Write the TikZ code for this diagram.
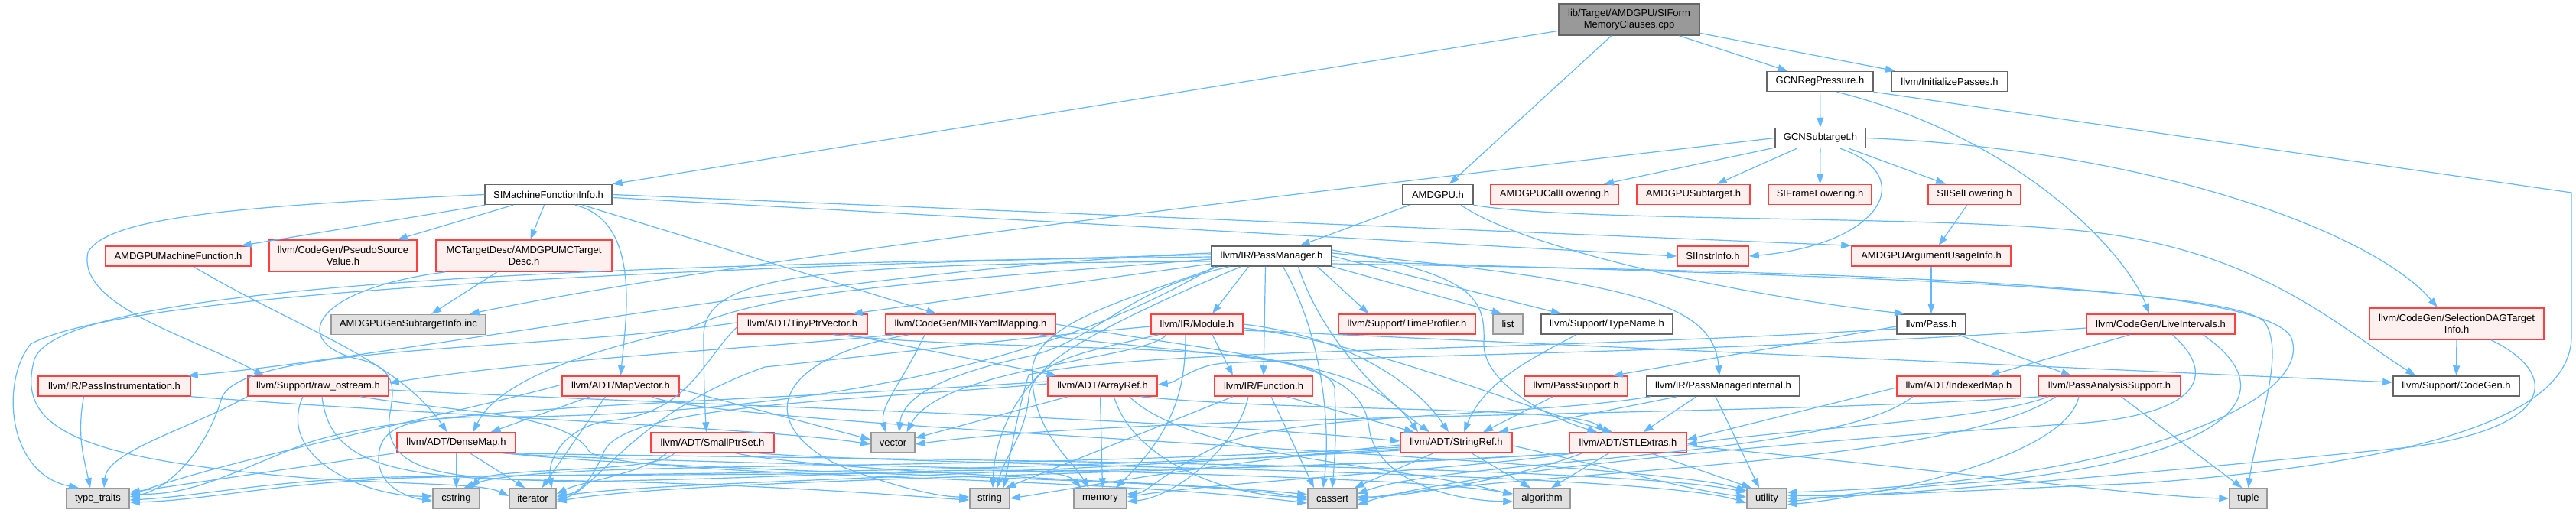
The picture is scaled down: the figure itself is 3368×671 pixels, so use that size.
\documentclass[tikz,border=0pt]{standalone}
\usepackage{fontspec}
\setmainfont{Liberation Sans}
\usetikzlibrary{arrows.meta,calc}
\definecolor{eblue}{HTML}{63B8FF}
\definecolor{nred}{HTML}{FF4040}
\definecolor{nredfill}{HTML}{FFF0F0}
\definecolor{ngray}{HTML}{999999}
\definecolor{ngrayfill}{HTML}{E0E0E0}
\definecolor{nwhite}{HTML}{666666}
\definecolor{nmain}{HTML}{999999}
\newcommand\nodefont{\fontsize{13}{15}\selectfont}
\tikzset{
 base/.style={rectangle, inner sep=1pt, minimum height=26pt, line width=1.5pt, font=\nodefont, align=center, text=black},
 rnode/.style={base, draw=nred, fill=nredfill},
 gnode/.style={base, draw=ngray, fill=ngrayfill},
 wnode/.style={base, draw=nwhite, fill=white},
 mnode/.style={base, draw=nwhite, fill=nmain},
 edg/.style={draw=eblue, line width=1.2pt, -{Triangle[length=13pt,width=9pt]}},
}
\begin{document}
\begin{tikzpicture}[x=1pt,y=-1pt]
\fill[white] (0,0) rectangle (3368,671);
\useasboundingbox (0,0) rectangle (3368,671);
% nodes
\node[mnode,minimum width=184pt,minimum height=41pt] (main) at (2130,25.5) {lib/Target/AMDGPU/SIForm\\MemoryClauses.cpp};
\node[wnode,minimum width=139pt] (gcnrp) at (2379.5,106.5) {GCNRegPressure.h};
\node[wnode,minimum width=152pt] (initp) at (2549,106.5) {llvm/InitializePasses.h};
\node[wnode,minimum width=118pt] (gcnst) at (2380,180.5) {GCNSubtarget.h};
\node[wnode,minimum width=166pt] (simfi) at (717,254.5) {SIMachineFunctionInfo.h};
\node[wnode,minimum width=92pt] (amdgpu) at (1880,254.5) {AMDGPU.h};
\node[rnode,minimum width=167pt] (calllow) at (2032.5,254.5) {AMDGPUCallLowering.h};
\node[rnode,minimum width=148pt] (amdsub) at (2214,254.5) {AMDGPUSubtarget.h};
\node[rnode,minimum width=135pt] (sifl) at (2379.5,254.5) {SIFrameLowering.h};
\node[rnode,minimum width=121pt] (siisel) at (2581.5,254.5) {SIISelLowering.h};
\node[rnode,minimum width=190pt] (amdmf) at (233,335) {AMDGPUMachineFunction.h};
\node[rnode,minimum width=193pt,minimum height=41pt] (pseudo) at (448.5,334.5) {llvm/CodeGen/PseudoSource\\Value.h};
\node[rnode,minimum width=230pt,minimum height=41pt] (mctd) at (685,334.5) {MCTargetDesc/AMDGPUMCTarget\\Desc.h};
\node[wnode,minimum width=157pt] (pm) at (1662.5,335) {llvm/IR/PassManager.h};
\node[rnode,minimum width=93pt] (siinstr) at (2239.5,335) {SIInstrInfo.h};
\node[rnode,minimum width=208pt] (argusage) at (2525,335) {AMDGPUArgumentUsageInfo.h};
\node[gnode,minimum width=202pt] (gensub) at (534,424.5) {AMDGPUGenSubtargetInfo.inc};
\node[rnode,minimum width=170pt] (tinyptr) at (1049,424) {llvm/ADT/TinyPtrVector.h};
\node[rnode,minimum width=222pt] (mir) at (1269,424) {llvm/CodeGen/MIRYamlMapping.h};
\node[rnode,minimum width=120pt] (module) at (1565,424) {llvm/IR/Module.h};
\node[rnode,minimum width=179pt] (timeprof) at (1839.5,424) {llvm/Support/TimeProfiler.h};
\node[gnode,minimum width=39pt] (list) at (1971.5,424) {list};
\node[wnode,minimum width=172pt] (typename) at (2101,424) {llvm/Support/TypeName.h};
\node[wnode,minimum width=90pt] (pass) at (2525,424) {llvm/Pass.h};
\node[rnode,minimum width=194pt] (liveint) at (2825,424) {llvm/CodeGen/LiveIntervals.h};
\node[rnode,minimum width=228pt,minimum height=41pt] (seldag) at (3212,423.5) {llvm/CodeGen/SelectionDAGTarget\\Info.h};
\node[rnode,minimum width=199pt] (passinst) at (149.5,505) {llvm/IR/PassInstrumentation.h};
\node[rnode,minimum width=184pt] (rawos) at (416,505) {llvm/Support/raw\_ostream.h};
\node[rnode,minimum width=153pt] (mapvec) at (811.5,505) {llvm/ADT/MapVector.h};
\node[rnode,minimum width=143pt] (arrayref) at (1441.5,505) {llvm/ADT/ArrayRef.h};
\node[rnode,minimum width=128pt] (function) at (1652,505) {llvm/IR/Function.h};
\node[rnode,minimum width=135pt] (passsup) at (2060.5,505) {llvm/PassSupport.h};
\node[wnode,minimum width=200pt] (pmi) at (2253,505) {llvm/IR/PassManagerInternal.h};
\node[rnode,minimum width=162pt] (indexed) at (2561,505) {llvm/ADT/IndexedMap.h};
\node[rnode,minimum width=186pt] (pas) at (2758,505) {llvm/PassAnalysisSupport.h};
\node[wnode,minimum width=165pt] (cg) at (3211.5,505) {llvm/Support/CodeGen.h};
\node[rnode,minimum width=155pt] (densemap) at (596.5,579) {llvm/ADT/DenseMap.h};
\node[rnode,minimum width=161pt] (smallptr) at (931.5,579) {llvm/ADT/SmallPtrSet.h};
\node[gnode,minimum width=57pt] (vector) at (1167.5,579) {vector};
\node[rnode,minimum width=146pt] (stringref) at (1904,579) {llvm/ADT/StringRef.h};
\node[rnode,minimum width=153pt] (stlextras) at (2128.5,579) {llvm/ADT/STLExtras.h};
\node[gnode,minimum width=82pt] (typetraits) at (128,652) {type\_traits};
\node[gnode,minimum width=61pt] (cstring) at (596.5,652) {cstring};
\node[gnode,minimum width=61pt] (iterator) at (696.5,652) {iterator};
\node[gnode,minimum width=52pt] (string) at (1294,652) {string};
\node[gnode,minimum width=69pt] (memory) at (1438.5,652) {memory};
\node[gnode,minimum width=64pt] (cassert) at (1742,652) {cassert};
\node[gnode,minimum width=74pt] (algorithm) at (2016,652) {algorithm};
\node[gnode,minimum width=52pt] (utility) at (2310,652) {utility};
\node[gnode,minimum width=49pt] (tuple) at (2939.5,652) {tuple};
% main
\draw[edg] (main) -- (simfi.north east);
\draw[edg] (main) -- (amdgpu);
\draw[edg] (main) -- (gcnrp);
\draw[edg] (main) -- (initp);
% gcnrp
\draw[edg] (gcnrp) -- (gcnst);
\draw[edg] ([xshift=22]gcnrp.south) .. controls (2640,180) and (2780,330) .. ([xshift=-15]liveint.north);
\draw[edg] (gcnrp.south east) -- (3362,252) -- (3362,440) .. controls (3362,560) and (3100,610) .. (2800,632) .. controls (2500,645) and (2420,650) .. ([yshift=4]utility.east);
% gcnst
\draw[edg] (gcnst.west) .. controls (1900,230) and (1000,330) .. ([xshift=-22]gensub.north east);
\draw[edg] (gcnst) -- (calllow);
\draw[edg] (gcnst) -- (amdsub);
\draw[edg] (gcnst) -- (sifl);
\draw[edg] (gcnst) -- (siisel);
\draw[edg] ([xshift=26]gcnst.south) .. controls (2510,230) and (2460,320) .. (siinstr.east);
\draw[edg] (gcnst.east) .. controls (2800,195) and (3100,300) .. ([xshift=-25]seldag.north);
\draw[edg] (siisel) -- (argusage);
\draw[edg] (argusage) -- (pass);
% amdgpu
\draw[edg] (amdgpu) -- (pm);
\draw[edg] ([xshift=30]amdgpu.south) .. controls (2000,330) and (2300,390) .. ([xshift=-35]pass.north);
\draw[edg] (amdgpu.south east) .. controls (2050,290) and (2500,282) .. (2700,300) .. controls (2950,320) and (3060,430) .. ([xshift=30]cg.north west);
% simfi
\draw[edg] (simfi) -- (amdmf);
\draw[edg] (simfi) -- (pseudo);
\draw[edg] (simfi) -- (mctd);
\draw[edg] ([xshift=35]simfi.south) .. controls (840,290) and (818,420) .. (mapvec.north);
\draw[edg] (simfi) -- (mir);
\draw[edg] (simfi.west) .. controls (300,270) and (140,285) .. (115,330) .. controls (100,400) and (250,440) .. ([xshift=22]rawos.north west);
\draw[edg] (simfi.east) -- (argusage.north west);
\draw[edg] ([yshift=-4]simfi.east) -- (siinstr.west);
% mctd, amdmf
\draw[edg] ([xshift=-35]mctd.south) -- ([xshift=30]gensub.north);
\draw[edg] ([xshift=13]mctd.south west) .. controls (400,380) and (380,450) .. (470,470) .. controls (520,482) and (515,510) .. (510,540) .. controls (495,625) and (600,625) .. (750,630) .. controls (1100,625) and (1380,600) .. ([xshift=-25]memory.north);
\draw[edg] ([xshift=20]amdmf.south) .. controls (390,430) and (520,470) .. ([xshift=-12]densemap.north);
% pm
\draw[edg] ([yshift=4]pm.west) .. controls (1100,350) and (500,470) .. ([xshift=-4]passinst.north east);
\draw[edg] ([yshift=2]pm.west) .. controls (700,355) and (150,390) .. (40,450) .. controls (0,500) and (10,620) .. ([xshift=-25]typetraits.north);
\draw[edg] ([yshift=-1]pm.west) .. controls (800,345) and (80,370) .. (45,470) .. controls (20,560) and (100,600) .. (400,625) .. controls (550,635) and (630,632) .. ([yshift=3]iterator.west);
\draw[edg] ([yshift=-4]pm.west) .. controls (1200,370) and (1000,380) .. (900,430) .. controls (760,460) and (650,500) .. ([xshift=22]densemap.north);
\draw[edg] ([yshift=-7]pm.west) .. controls (1050,345) and (920,360) .. (920,440) .. controls (920,500) and (922,540) .. ([xshift=-8]smallptr.north);
\draw[edg] ([yshift=-10]pm.west) -- ([xshift=-20]tinyptr.north east);
\draw[edg] ([xshift=-30]pm.south) -- ([xshift=20]module.north);
\draw[edg] ([xshift=-8]pm.south) -- (function.north);
\draw[edg] ([xshift=-55]pm.south) .. controls (1470,380) and (1440,440) .. (1350,465) .. controls (1230,490) and (1180,520) .. ([xshift=8]vector.north);
\draw[edg] ([xshift=-40]pm.south) .. controls (1500,400) and (1420,440) .. (1380,470) .. controls (1320,520) and (1300,580) .. ([xshift=4]string.north);
\draw[edg] ([xshift=-70]pm.south) .. controls (1480,390) and (1360,420) .. (1350,480) .. controls (1345,560) and (1400,600) .. ([xshift=-15]memory.north);
\draw[edg] ([xshift=-75]pm.south) .. controls (1300,520) and (900,540) .. (700,545) .. controls (560,545) and (495,545) .. (495,600) .. controls (495,640) and (540,652) .. ([yshift=-3]cstring.west);
\draw[edg] ([xshift=15]pm.south) .. controls (1730,440) and (1740,560) .. ([xshift=-12]cassert.north);
\draw[edg] ([xshift=35]pm.south) .. controls (1720,420) and (1780,500) .. ([xshift=-35]stringref.north);
\draw[edg] ([xshift=60]pm.south) -- ([xshift=-50]timeprof.north);
\draw[edg] (pm.south east) -- ([xshift=-8]list.north);
\draw[edg] (pm.east) -- ([xshift=-60]typename.north);
\draw[edg] ([yshift=4]pm.east) .. controls (2150,370) and (2240,400) .. ([xshift=-5]pmi.north);
\draw[edg] ([yshift=8]pm.east) .. controls (1930,360) and (1942,390) .. (1940,450) .. controls (1940,500) and (2020,545) .. ([xshift=-40]stlextras.north);
\draw[edg] ([yshift=-6]pm.east) .. controls (2300,360) and (2900,370) .. (2960,420) .. controls (2990,460) and (2950,560) .. (tuple.north);
\draw[edg] ([yshift=-10]pm.east) .. controls (2400,355) and (2950,370) .. (2995,440) .. controls (3030,520) and (2800,630) .. ([yshift=8]utility.east);
% module
\draw[edg] ([xshift=20]module.south) -- ([xshift=-40]function.north);
\draw[edg] ([xshift=-40]module.south) .. controls (1500,470) and (1230,480) .. ([xshift=18]vector.north);
\draw[edg] ([xshift=-15]module.south) .. controls (1550,500) and (1540,560) .. ([xshift=20]memory.north);
\draw[edg] ([xshift=-50]module.south) .. controls (1420,460) and (1350,470) .. (1345,520) .. controls (1340,570) and (1312,600) .. ([xshift=10]string.north);
\draw[edg] ([yshift=-5]module.east) .. controls (1800,450) and (1980,530) .. ([xshift=-20]stlextras.north);
\draw[edg] (module.east) .. controls (1760,440) and (1850,500) .. ([xshift=-10]stringref.north);
\draw[edg] ([yshift=-8]module.east) -- ([yshift=5]cg.west);
\draw[edg] ([yshift=-3]module.west) .. controls (1300,445) and (1100,470) .. (1000,480) .. controls (830,540) and (780,640) .. ([yshift=-2]iterator.east);
% function
\draw[edg] ([xshift=-40]function.south) -- ([xshift=-6]string.north east);
\draw[edg] ([xshift=-20]function.south) .. controls (1620,580) and (1540,650) .. ([yshift=-4]memory.east);
\draw[edg] ([xshift=30]function.south) -- ([xshift=-55]stringref.north);
\draw[edg] ([xshift=10]function.south) -- ([xshift=-24]cassert.north);
% arrayref
\draw[edg] ([xshift=-45]arrayref.south) -- ([yshift=6]vector.east);
\draw[edg] ([xshift=-3]arrayref.south) -- ([xshift=3]memory.north);
\draw[edg] ([xshift=50]arrayref.south) .. controls (1700,540) and (2060,530) .. ([xshift=-30]stlextras.north);
\draw[edg] ([xshift=15]arrayref.south) .. controls (1480,600) and (1600,650) .. ([yshift=2]cassert.west);
\draw[edg] ([xshift=35]arrayref.south) .. controls (1560,600) and (1850,610) .. ([yshift=4]algorithm.west);
\draw[edg] ([yshift=3]arrayref.west) .. controls (1100,525) and (820,530) .. (790,590) .. controls (775,625) and (760,645) .. ([yshift=4]iterator.east);
\draw[edg] ([yshift=6]arrayref.west) .. controls (900,530) and (550,530) .. (400,580) .. controls (300,620) and (250,648) .. ([yshift=6]typetraits.east);
% stringref
\draw[edg] ([xshift=-30]stringref.south) -- ([xshift=-4]cassert.north east);
\draw[edg] ([xshift=20]stringref.south) -- ([xshift=-15]algorithm.north);
\draw[edg] ([yshift=-4]stringref.east) .. controls (2100,610) and (2200,640) .. ([yshift=2]utility.west);
\draw[edg] ([yshift=-3]stringref.west) .. controls (1550,610) and (1400,640) .. (string.east);
\draw[edg] ([yshift=-6]stringref.west) .. controls (1200,620) and (700,600) .. ([xshift=10]cstring.north);
\draw[edg] ([yshift=-8]stringref.west) .. controls (1200,630) and (850,630) .. ([yshift=2]iterator.east);
\draw[edg] ([yshift=-10]stringref.west) .. controls (1200,625) and (600,620) .. (480,625) .. controls (350,630) and (250,650) .. ([yshift=-2]typetraits.east);
% stlextras
\draw[edg] ([xshift=-25]stlextras.south) -- ([xshift=12]algorithm.north);
\draw[edg] ([xshift=30]stlextras.south) -- ([xshift=-20]utility.north);
\draw[edg] ([yshift=-4]stlextras.east) .. controls (2500,610) and (2800,650) .. (tuple.west);
\draw[edg] ([xshift=-60]stlextras.south) .. controls (2000,620) and (1850,650) .. ([yshift=2]cassert.east);
\draw[edg] ([xshift=-70]stlextras.south) .. controls (1900,615) and (1600,630) .. ([yshift=2]memory.east);
\draw[edg] ([xshift=-75]stlextras.south) .. controls (1600,620) and (900,625) .. ([yshift=-4]iterator.east);
\draw[edg] ([xshift=-76]stlextras.south) .. controls (1500,630) and (600,615) .. (480,628) .. controls (350,635) and (260,655) .. ([yshift=-5]typetraits.east);
% densemap
\draw[edg] (densemap) -- (cstring);
\draw[edg] ([xshift=18]densemap.south) -- ([xshift=-10]iterator.north);
\draw[edg] ([xshift=-2]densemap.south west) -- ([yshift=8]typetraits.east);
\draw[edg] ([xshift=60]densemap.south) .. controls (900,610) and (1800,615) .. ([yshift=6]algorithm.west);
\draw[edg] ([xshift=65]densemap.south) .. controls (900,620) and (1600,625) .. ([yshift=-2]cassert.west);
\draw[edg] ([xshift=70]densemap.south) .. controls (1000,600) and (2100,605) .. ([yshift=8]utility.west);
% smallptr
\draw[edg] ([xshift=30]smallptr.south) .. controls (1100,620) and (1550,630) .. ([yshift=5]cassert.west);
\draw[edg] ([xshift=-50]smallptr.south) .. controls (860,620) and (640,610) .. ([xshift=20]cstring.north);
\draw[edg] ([xshift=-60]smallptr.south) .. controls (840,620) and (760,630) .. ([yshift=6]iterator.east);
\draw[edg] ([xshift=60]smallptr.south) .. controls (1200,610) and (2150,615) .. ([yshift=-6]utility.west);
% tinyptr
\draw[edg] ([xshift=60]tinyptr.south) -- ([xshift=-60]arrayref.north);
\draw[edg] ([xshift=40]tinyptr.south) .. controls (1350,465) and (1760,440) .. (1745,515) .. controls (1748,560) and (1745,600) .. (cassert.north);
\draw[edg] ([yshift=-4]tinyptr.west) .. controls (920,470) and (900,540) .. (800,550) .. controls (740,556) and (715,600) .. ([xshift=25]iterator.north);
\draw[edg] ([yshift=2]tinyptr.west) .. controls (700,460) and (320,450) .. (290,520) .. controls (270,590) and (220,640) .. ([yshift=2]typetraits.east);
% mapvec
\draw[edg] ([xshift=-40]mapvec.south) -- ([xshift=45]densemap.north);
\draw[edg] ([xshift=-20]mapvec.south) -- ([xshift=12]iterator.north);
\draw[edg] ([yshift=-4]mapvec.east) -- ([yshift=4]vector.west);
\draw[edg] ([yshift=2]mapvec.west) .. controls (600,540) and (300,600) .. ([yshift=4]typetraits.east);
\draw[edg] ([xshift=40]mapvec.south) .. controls (950,560) and (2150,600) .. ([yshift=10]utility.west);
% passinst
\draw[edg] ([xshift=-40]passinst.south) .. controls (100,570) and (110,600) .. ([xshift=-10]typetraits.north);
\draw[edg] (passinst.south east) .. controls (600,545) and (1000,560) .. ([yshift=-2]vector.west);
% rawos
\draw[edg] (rawos.south west) .. controls (250,560) and (140,590) .. ([xshift=8]typetraits.north);
\draw[edg] ([xshift=-20]rawos.south) .. controls (360,600) and (480,650) .. ([yshift=3]cstring.west);
\draw[edg] ([xshift=5]rawos.south) .. controls (430,600) and (500,625) .. (700,628) .. controls (1000,632) and (1200,650) .. ([yshift=-2]string.west);
\draw[edg] ([xshift=55]rawos.south) .. controls (600,540) and (740,540) .. (770,590) .. controls (800,625) and (1400,620) .. ([yshift=-6]cassert.west);
\draw[edg] ([yshift=-5]rawos.east) .. controls (900,530) and (1500,545) .. ([yshift=2]stringref.west);
% mir
\draw[edg] ([xshift=-100]mir.south) .. controls (1000,455) and (700,470) .. ([yshift=4]rawos.east);
\draw[edg] ([xshift=-60]mir.south) .. controls (1180,500) and (1150,530) .. ([xshift=-10]vector.north);
\draw[edg] ([xshift=-80]mir.south) .. controls (1000,470) and (990,560) .. (1100,610) .. controls (1150,630) and (1220,650) .. ([yshift=2]string.west);
\draw[edg] ([xshift=90]mir.south) .. controls (1600,470) and (1780,460) .. ([xshift=-50]stringref.north);
\draw[edg] (mir.east) .. controls (1650,470) and (1780,470) .. (1790,560) .. controls (1800,630) and (1900,655) .. ([yshift=-4]algorithm.west);
% typename, passsup
\draw[edg] ([xshift=-40]typename.south) .. controls (2000,470) and (1940,500) .. ([xshift=10]stringref.north);
\draw[edg] ([xshift=-30]passsup.south) -- ([xshift=35]stringref.north);
% pmi
\draw[edg] ([xshift=-60]pmi.south) -- ([xshift=55]stringref.north);
\draw[edg] ([xshift=-35]pmi.south) -- ([xshift=20]stlextras.north);
\draw[edg] ([xshift=-10]pmi.south) -- ([xshift=-10]utility.north);
\draw[edg] ([xshift=-95]pmi.south) .. controls (2000,545) and (1700,540) .. (1600,580) .. controls (1530,610) and (1500,645) .. ([yshift=6]memory.east);
% pass
\draw[edg] ([yshift=-3]pass.west) -- ([xshift=-20]passsup.north east);
\draw[edg] ([xshift=35]pass.south) -- ([xshift=-50]pas.north);
\draw[edg] ([yshift=-6]pass.west) .. controls (2000,460) and (1500,455) .. (1345,490) .. controls (1330,540) and (1320,600) .. ([xshift=18]string.north);
% indexed
\draw[edg] ([yshift=-2]indexed.west) -- ([yshift=4]stlextras.east);
\draw[edg] ([xshift=-60]indexed.south) .. controls (2400,600) and (1900,600) .. ([yshift=6]cassert.east);
% pas
\draw[edg] ([xshift=15]pas.south) -- ([xshift=-8]tuple.north);
\draw[edg] ([xshift=-40]pas.south) .. controls (2700,600) and (2450,650) .. ([yshift=-8]utility.east);
\draw[edg] ([xshift=-80]pas.south) .. controls (2600,550) and (2350,560) .. ([yshift=-2]stlextras.east);
\draw[edg] ([xshift=-70]pas.south) .. controls (2550,610) and (2000,615) .. ([yshift=-2]cassert.east);
\draw[edg] ([xshift=-90]pas.south) .. controls (2300,545) and (1500,540) .. ([yshift=-2]vector.east);
% liveint
\draw[edg] ([xshift=-40]liveint.south) -- ([xshift=40]indexed.north);
\draw[edg] ([yshift=-5]liveint.west) .. controls (2300,460) and (1800,465) .. (1600,475) .. controls (1560,478) and (1540,500) .. ([yshift=2]arrayref.east);
\draw[edg] ([xshift=15]liveint.south) .. controls (2900,490) and (2880,545) .. (2700,555) .. controls (2300,580) and (1900,620) .. ([yshift=-8]cassert.east);
\draw[edg] ([xshift=55]liveint.south) .. controls (3000,520) and (2900,600) .. (2600,630) .. controls (2450,640) and (2400,650) .. ([yshift=-4]utility.east);
% seldag
\draw[edg] (seldag) -- (cg);
\draw[edg] ([xshift=45]seldag.south) .. controls (3350,490) and (3340,560) .. (3150,585) .. controls (2800,620) and (2450,650) .. (utility.east);
\end{tikzpicture}
\end{document}
